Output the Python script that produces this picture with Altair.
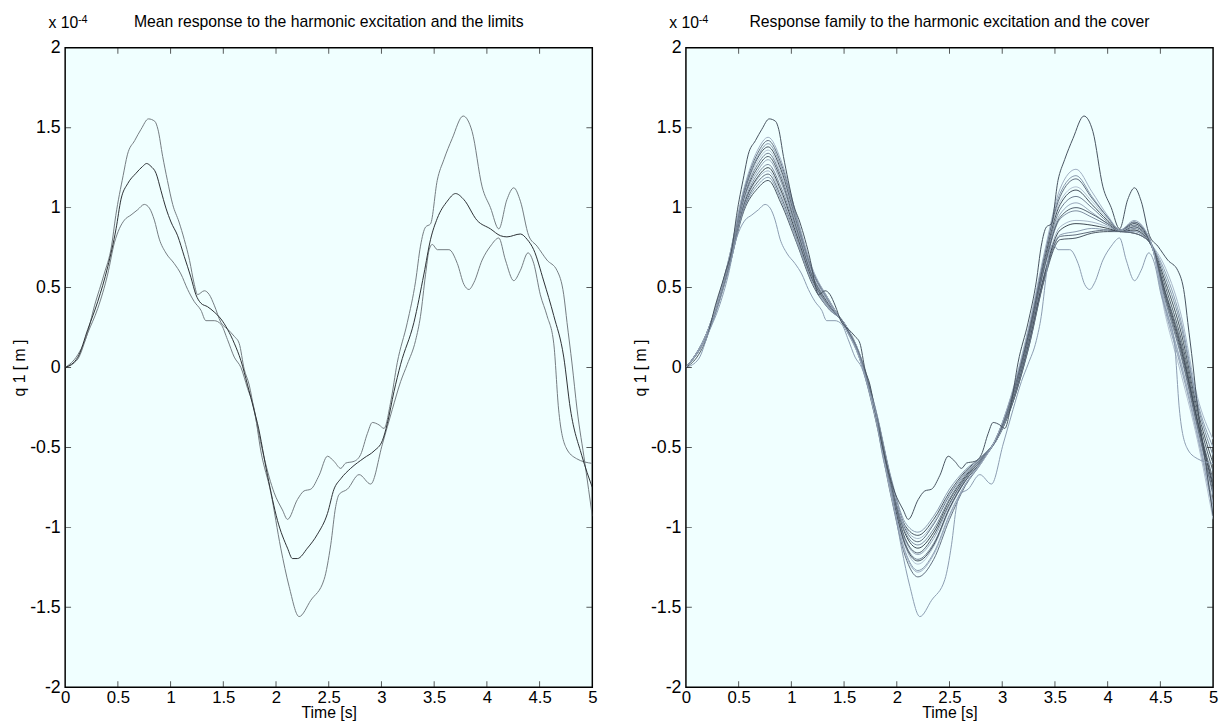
import altair as alt
import pandas as pd

FONT = "Liberation Sans, Arial, sans-serif"

# ---------------- data (values in units of 1e-4 m) ----------------
upper_t = [0, 0.12, 0.2, 0.28, 0.37, 0.44, 0.48, 0.55, 0.59, 0.66, 0.72, 0.79, 0.85, 0.88, 0.925, 0.97, 1.02, 1.08, 1.13, 1.18,
           1.225, 1.256, 1.32, 1.367, 1.414, 1.477, 1.54, 1.604, 1.651, 1.698, 1.746, 1.793, 1.888, 1.982, 2.061, 2.109, 2.203, 2.266, 2.33, 2.409,
           2.488, 2.55, 2.614, 2.661, 2.74, 2.803, 2.866, 2.914, 2.977, 3.024, 3.087, 3.15, 3.245, 3.324, 3.37, 3.418, 3.466, 3.529, 3.592, 3.671,
           3.775, 3.86, 3.955, 4.034, 4.113, 4.19, 4.255, 4.318, 4.397, 4.476, 4.57, 4.665, 4.729, 4.76, 4.808, 4.855, 4.93, 5.0]
upper_v = [0, 0.08, 0.19, 0.39, 0.585, 0.76, 0.95, 1.2, 1.33, 1.42, 1.49, 1.555, 1.54, 1.49, 1.32, 1.17, 1.02, 0.91, 0.80, 0.67,
           0.52, 0.456, 0.48, 0.456, 0.39, 0.282, 0.24, 0.195, 0.15, -0.01, -0.11, -0.27, -0.566, -0.783, -0.891, -0.95, -0.826, -0.772, -0.761, -0.674,
           -0.555, -0.587, -0.631, -0.598, -0.587, -0.544, -0.414, -0.344, -0.359, -0.381, -0.218, 0.03, 0.28, 0.54, 0.759, 0.878, 0.899, 1.17, 1.30, 1.432,
           1.573, 1.476, 1.13, 1.0, 0.867, 1.05, 1.124, 1.04, 0.824, 0.759, 0.672, 0.607, 0.455, 0.282, 0.022, -0.26, -0.6, -0.93]

mean_t = [0, 0.12, 0.215, 0.309, 0.404, 0.483, 0.53, 0.593, 0.672, 0.735, 0.773, 0.814, 0.862, 0.909, 0.956, 1.004, 1.067, 1.13, 1.193, 1.24,
          1.288, 1.351, 1.414, 1.477, 1.54, 1.604, 1.667, 1.73, 1.793, 1.824, 1.919, 2.014, 2.109, 2.156, 2.203, 2.298, 2.393, 2.488, 2.55, 2.614,
          2.708, 2.835, 2.93, 3.009, 3.056, 3.119, 3.182, 3.308, 3.403, 3.466, 3.529, 3.624, 3.703, 3.782, 3.907, 4.034, 4.13, 4.19, 4.318, 4.381,
          4.444, 4.539, 4.634, 4.729, 4.792, 4.9, 5.0]
mean_v = [0, 0.064, 0.239, 0.412, 0.63, 0.868, 1.053, 1.15, 1.215, 1.258, 1.276, 1.258, 1.215, 1.106, 0.997, 0.91, 0.824, 0.694, 0.564, 0.456,
          0.402, 0.38, 0.347, 0.304, 0.239, 0.152, 0.043, -0.109, -0.27, -0.349, -0.674, -0.957, -1.13, -1.195, -1.195, -1.13, -1.043, -0.913, -0.761, -0.696,
          -0.631, -0.566, -0.522, -0.457, -0.35, -0.15, 0.02, 0.282, 0.585, 0.802, 0.932, 1.04, 1.088, 1.05, 0.92, 0.867, 0.824, 0.817, 0.835, 0.802,
          0.737, 0.541, 0.325, 0.065, -0.26, -0.55, -0.75]

lower_t = [0, 0.12, 0.215, 0.309, 0.404, 0.467, 0.514, 0.562, 0.625, 0.688, 0.751, 0.799, 0.846, 0.893, 0.956, 1.035, 1.098, 1.162, 1.225, 1.288,
           1.335, 1.414, 1.477, 1.54, 1.604, 1.667, 1.73, 1.793, 1.856, 1.951, 2.045, 2.124, 2.219, 2.33, 2.456, 2.519, 2.566, 2.598, 2.677, 2.788,
           2.898, 3.009, 3.103, 3.182, 3.245, 3.324, 3.37, 3.418, 3.45, 3.482, 3.53, 3.64, 3.72, 3.782, 3.83, 3.876, 3.955, 4.034, 4.113, 4.176,
           4.255, 4.318, 4.39, 4.444, 4.507, 4.57, 4.634, 4.68, 4.75, 4.85, 5.0]
lower_v = [0, 0.053, 0.217, 0.369, 0.585, 0.78, 0.868, 0.922, 0.954, 0.987, 1.02, 0.997, 0.922, 0.803, 0.716, 0.65, 0.585, 0.488, 0.412, 0.358,
           0.293, 0.293, 0.271, 0.174, 0.065, 0.0, -0.13, -0.26, -0.522, -0.783, -1.13, -1.369, -1.558, -1.456, -1.326, -1.109, -0.87, -0.794, -0.761, -0.67,
           -0.729, -0.479, -0.262, -0.088, 0.02, 0.17, 0.32, 0.58, 0.73, 0.77, 0.737, 0.737, 0.65, 0.52, 0.488, 0.53, 0.672, 0.759, 0.81, 0.672,
           0.543, 0.608, 0.717, 0.652, 0.455, 0.325, 0.152, -0.26, -0.5, -0.57, -0.6]

family_t = [0, 0.2, 0.4, 0.55, 0.68, 0.78, 0.9, 1.05, 1.2, 1.35, 1.5, 1.65, 1.8, 1.95, 2.08, 2.2, 2.35, 2.5, 2.65, 2.8,
            2.95, 3.1, 3.25, 3.4, 3.55, 3.7, 3.85, 4.0, 4.12, 4.25, 4.4, 4.55, 4.7, 4.85, 5.0]
family_values = [
    [0, 0.20, 0.60, 0.98, 1.12, 1.17, 1.03, 0.78, 0.52, 0.37, 0.28, 0.08, -0.27, -0.71, -0.99, -1.05, -0.95, -0.78, -0.65, -0.56, -0.45, -0.22, 0.12, 0.55, 0.80, 0.81, 0.84, 0.85, 0.85, 0.84, 0.78, 0.53, 0.21, -0.26, -0.60],
    [0, 0.20, 0.60, 0.99, 1.14, 1.19, 1.05, 0.79, 0.53, 0.37, 0.28, 0.08, -0.26, -0.70, -0.97, -1.03, -0.93, -0.76, -0.64, -0.56, -0.45, -0.21, 0.13, 0.57, 0.83, 0.85, 0.87, 0.86, 0.85, 0.85, 0.78, 0.59, 0.28, -0.21, -0.50],
    [0, 0.20, 0.61, 1.00, 1.16, 1.21, 1.07, 0.81, 0.54, 0.38, 0.28, 0.07, -0.27, -0.72, -1.01, -1.09, -0.98, -0.80, -0.66, -0.57, -0.45, -0.22, 0.13, 0.56, 0.82, 0.83, 0.85, 0.86, 0.85, 0.84, 0.78, 0.47, 0.14, -0.32, -0.70],
    [0, 0.20, 0.61, 1.01, 1.18, 1.23, 1.09, 0.82, 0.54, 0.38, 0.28, 0.08, -0.27, -0.72, -1.00, -1.07, -0.97, -0.79, -0.66, -0.57, -0.45, -0.20, 0.15, 0.59, 0.88, 0.92, 0.91, 0.88, 0.85, 0.86, 0.78, 0.62, 0.32, -0.18, -0.45],
    [0, 0.21, 0.62, 1.02, 1.19, 1.25, 1.11, 0.83, 0.55, 0.39, 0.27, 0.07, -0.28, -0.74, -1.04, -1.13, -1.03, -0.83, -0.68, -0.57, -0.44, -0.20, 0.15, 0.58, 0.86, 0.90, 0.89, 0.87, 0.85, 0.86, 0.78, 0.44, 0.10, -0.34, -0.75],
    [0, 0.21, 0.62, 1.03, 1.21, 1.27, 1.13, 0.85, 0.56, 0.39, 0.27, 0.07, -0.28, -0.74, -1.03, -1.11, -1.01, -0.82, -0.67, -0.57, -0.44, -0.19, 0.17, 0.62, 0.93, 0.98, 0.94, 0.89, 0.85, 0.87, 0.79, 0.56, 0.25, -0.23, -0.55],
    [0, 0.21, 0.63, 1.05, 1.23, 1.30, 1.16, 0.86, 0.57, 0.40, 0.27, 0.07, -0.30, -0.76, -1.08, -1.17, -1.07, -0.86, -0.69, -0.58, -0.44, -0.18, 0.19, 0.64, 0.96, 1.03, 0.97, 0.90, 0.86, 0.88, 0.79, 0.38, 0.02, -0.40, -0.85],
    [0, 0.21, 0.63, 1.06, 1.25, 1.32, 1.18, 0.87, 0.57, 0.40, 0.27, 0.07, -0.29, -0.75, -1.07, -1.16, -1.05, -0.85, -0.69, -0.58, -0.44, -0.18, 0.18, 0.63, 0.94, 1.00, 0.96, 0.90, 0.85, 0.88, 0.79, 0.50, 0.17, -0.29, -0.65],
    [0, 0.21, 0.64, 1.07, 1.27, 1.34, 1.20, 0.89, 0.58, 0.41, 0.27, 0.06, -0.30, -0.77, -1.10, -1.20, -1.10, -0.88, -0.70, -0.58, -0.44, -0.17, 0.20, 0.65, 0.99, 1.07, 1.00, 0.91, 0.86, 0.89, 0.79, 0.41, 0.06, -0.37, -0.80],
    [0, 0.21, 0.64, 1.08, 1.29, 1.36, 1.22, 0.90, 0.59, 0.41, 0.27, 0.06, -0.31, -0.78, -1.12, -1.23, -1.12, -0.89, -0.71, -0.59, -0.44, -0.16, 0.22, 0.68, 1.04, 1.13, 1.04, 0.93, 0.86, 0.90, 0.80, 0.32, -0.05, -0.45, -0.95],
    [0, 0.22, 0.65, 1.09, 1.31, 1.38, 1.24, 0.91, 0.60, 0.42, 0.27, 0.06, -0.31, -0.78, -1.11, -1.21, -1.11, -0.88, -0.71, -0.59, -0.44, -0.16, 0.21, 0.67, 1.02, 1.11, 1.02, 0.92, 0.86, 0.90, 0.79, 0.46, 0.12, -0.33, -0.73],
    [0, 0.22, 0.65, 1.10, 1.32, 1.40, 1.26, 0.92, 0.60, 0.42, 0.26, 0.06, -0.32, -0.80, -1.15, -1.27, -1.16, -0.92, -0.73, -0.59, -0.43, -0.15, 0.24, 0.70, 1.09, 1.20, 1.07, 0.94, 0.86, 0.91, 0.80, 0.35, -0.01, -0.42, -0.90],
    [0, 0.22, 0.66, 1.11, 1.34, 1.42, 1.28, 0.94, 0.61, 0.43, 0.26, 0.05, -0.33, -0.82, -1.18, -1.31, -1.20, -0.95, -0.74, -0.60, -0.43, -0.15, 0.23, 0.70, 1.07, 1.18, 1.06, 0.94, 0.86, 0.91, 0.80, 0.43, 0.08, -0.36, -0.78],
    [0, 0.22, 0.66, 1.12, 1.36, 1.44, 1.30, 0.95, 0.62, 0.43, 0.26, 0.05, -0.32, -0.81, -1.16, -1.28, -1.17, -0.93, -0.73, -0.60, -0.43, -0.14, 0.25, 0.72, 1.12, 1.24, 1.10, 0.95, 0.86, 0.92, 0.80, 0.37, 0.01, -0.41, -0.88],
]
family_colors = ["#46525e", "#8a9bb0", "#5d6b7a", "#a7b6c8", "#3b4650", "#7b8b9e", "#97a7ba",
                 "#505d6b", "#6d7c8e", "#b2c0d0", "#434f5b", "#8798ac", "#5f6d7d", "#a0afc2"]

x_labels = [0, 0.5, 1, 1.5, 2, 2.5, 3, 3.5, 4, 4.5, 5]
y_labels = [-2, -1.5, -1, -0.5, 0, 0.5, 1, 1.5, 2]
x_ticks = [0.5, 1, 1.5, 2, 2.5, 3, 3.5, 4, 4.5]
y_ticks = [-1.5, -1, -0.5, 0, 0.5, 1, 1.5]

title_left = "Mean response to the harmonic excitation and the limits"
title_right = "Response family to the harmonic excitation and the cover"

# ---------------- helpers ----------------
def frame(name, ts, vs):
    return pd.DataFrame({"s": name, "t": ts, "v": vs})

xscale = alt.Scale(domain=[0, 5], nice=False, zero=False)
yscale = alt.Scale(domain=[-2, 2], nice=False, zero=False)

xaxis = alt.Axis(values=x_labels, labelExpr="datum.value + ''", title="Time [s]", grid=False, domain=False,
                 ticks=False, labelPadding=2, labelFontSize=17, labelFont=FONT, titleFont=FONT,
                 titleFontSize=16, titleFontWeight="normal", titleY=31, titleBaseline="alphabetic",
                 labelColor="black", titleColor="black", labelFlush=False, labelOverlap=False)
yaxis = alt.Axis(values=y_labels, labelExpr="datum.value + ''", title="q 1  [ m ]", grid=False, domain=False,
                 ticks=False, labelPadding=5, labelFontSize=18, labelFont=FONT, titleFont=FONT,
                 titleFontSize=16, titleFontWeight="normal", titlePadding=2, labelColor="black",
                 titleColor="black", labelFlush=False, labelOverlap=False, minExtent=36, maxExtent=36)


def panel(line_layers, title):
    xt = pd.DataFrame({"t": x_ticks})
    yt = pd.DataFrame({"v": y_ticks})
    tick_style = dict(thickness=1, size=12, color="#111111", clip=True)
    bottom = alt.Chart(xt).mark_tick(orient="vertical", **tick_style).encode(
        x=alt.X("t:Q", scale=xscale, axis=xaxis), y=alt.datum(-2))
    top = alt.Chart(xt).mark_tick(orient="vertical", **tick_style).encode(
        x=alt.X("t:Q", scale=xscale), y=alt.datum(2))
    left = alt.Chart(yt).mark_tick(orient="horizontal", **tick_style).encode(
        y=alt.Y("v:Q", scale=yscale, axis=yaxis), x=alt.datum(0))
    right = alt.Chart(yt).mark_tick(orient="horizontal", **tick_style).encode(
        y=alt.Y("v:Q", scale=yscale), x=alt.datum(5))
    ann = pd.DataFrame({"t": [0], "tc": [2.5], "v": [2], "a": ["x 10"], "b": ["-4"], "c": [title]})
    x10 = alt.Chart(ann).mark_text(align="left", baseline="alphabetic", dx=-17, dy=-20, fontSize=16,
                                   font=FONT, color="black").encode(
        x=alt.X("t:Q", scale=xscale), y=alt.Y("v:Q", scale=yscale), text="a:N")
    exp = alt.Chart(ann).mark_text(align="left", baseline="alphabetic", dx=13, dy=-25, fontSize=11,
                                   font=FONT, color="black").encode(
        x=alt.X("t:Q", scale=xscale), y=alt.Y("v:Q", scale=yscale), text="b:N")
    ttl = alt.Chart(ann).mark_text(align="center", baseline="alphabetic", dy=-21, fontSize=16,
                                   font=FONT, color="black").encode(
        x=alt.X("tc:Q", scale=xscale), y=alt.Y("v:Q", scale=yscale), text="c:N")
    return alt.layer(*line_layers, bottom, top, left, right, x10, exp, ttl).properties(
        width=535, height=649)


def lines(df, domain, colors, interp="monotone"):
    return alt.Chart(df).mark_line(strokeWidth=1, clip=True, interpolate=interp).encode(
        x=alt.X("t:Q", scale=xscale, axis=xaxis),
        y=alt.Y("v:Q", scale=yscale, axis=yaxis),
        color=alt.Color("s:N", scale=alt.Scale(domain=domain, range=colors), legend=None))


# left panel
left_df = pd.concat([frame("a_upper", upper_t, upper_v), frame("b_lower", lower_t, lower_v),
                     frame("c_mean", mean_t, mean_v)])
left_lines = lines(left_df, ["a_upper", "b_lower", "c_mean"], ["#737b80", "#737b80", "#2b2f33"])

# right panel
fam_frames = []
fam_names = []
for i, vals in enumerate(family_values):
    name = f"m{i:02d}"
    fam_names.append(name)
    fam_frames.append(frame(name, family_t, vals))
fam_df = pd.concat(fam_frames)
fam_lines = lines(fam_df, fam_names, family_colors)
lim_df = pd.concat([frame("a_upper", upper_t, upper_v), frame("b_lower", lower_t, lower_v)])
lim_lines = lines(lim_df, ["a_upper", "b_lower"], ["#30373e", "#30373e"])

left_panel = panel([left_lines], title_left)
right_panel = panel([fam_lines, lim_lines], title_right)

chart = alt.hconcat(left_panel, right_panel, spacing=34).resolve_scale(color="independent").properties(
    padding={"left": 3, "top": 0, "right": 0, "bottom": 0}, background="white"
).configure_view(fill="#F0FFFF", stroke="black", strokeWidth=1.5)

chart.save("out.html", embed_options={"renderer": "svg", "actions": False})
